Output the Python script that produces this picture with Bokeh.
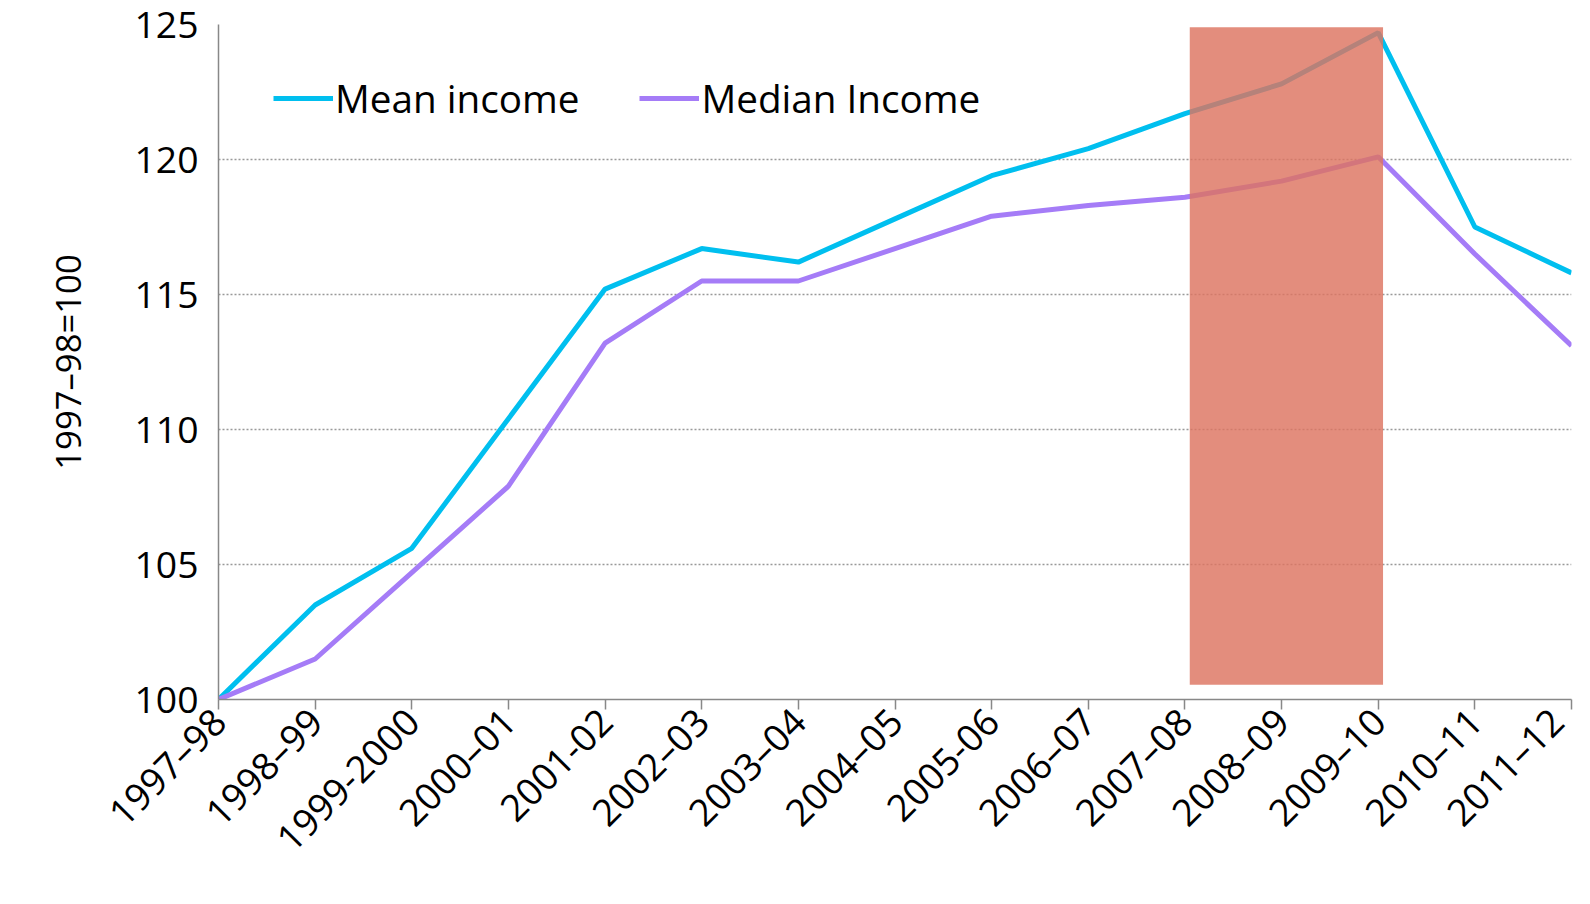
from bokeh.plotting import figure
from bokeh.models import Range1d, FixedTicker, Legend
from bokeh.embed import file_html
from bokeh.resources import INLINE
import math

years = ["1997\u201398", "1998\u201399", "1999-2000", "2000\u201301", "2001-02", "2002\u201303",
         "2003\u201304", "2004\u201305", "2005-06", "2006\u201307", "2007\u201308", "2008\u201309",
         "2009\u201310", "2010\u201311", "2011\u201312"]
mean_income = [100, 103.5, 105.6, 110.4, 115.2, 116.7, 116.2, 117.8, 119.4, 120.4, 121.7, 122.8, 124.7, 117.5, 115.8]
median_income = [100, 101.5, 104.7, 107.9, 113.2, 115.5, 115.5, 116.7, 117.9, 118.3, 118.6, 119.2, 120.1, 116.5, 113.1]
shade_start, shade_end = 10.05, 12.05
shade_bottom, shade_top = 100.55, 124.9

x = list(range(len(years)))

p = figure(width=1574, height=882, output_backend="svg", toolbar_location=None,
           x_range=Range1d(0, len(years) - 1), y_range=Range1d(100, 125),
           min_border_left=218, min_border_right=3, min_border_top=24, min_border_bottom=10)
p.outline_line_color = None
p.background_fill_color = "white"

l1 = p.line(x, mean_income, line_width=5, line_color="#00BFEF")
l2 = p.line(x, median_income, line_width=5, line_color="#A57CF7")
p.quad(left=shade_start, right=shade_end, bottom=shade_bottom, top=shade_top,
       fill_color="#DD7460", fill_alpha=0.82, line_color=None)

legend = Legend(items=[("Mean income", [l1]), ("Median Income", [l2])],
                orientation="horizontal", location=(55, 575), border_line_color=None,
                background_fill_alpha=0, label_text_font_size="29pt", label_text_font="Open Sans",
                label_text_color="black", glyph_width=60, spacing=60, label_standoff=2)
p.add_layout(legend, "center")

p.xgrid.grid_line_color = None
p.ygrid.grid_line_color = "#999999"
p.ygrid.grid_line_dash = "2 2"
p.ygrid.grid_line_width = 1.5

p.xaxis.ticker = FixedTicker(ticks=x)
p.xaxis.major_label_overrides = {i: s for i, s in enumerate(years)}
p.xaxis.major_label_orientation = math.pi / 4
p.yaxis.ticker = FixedTicker(ticks=[100, 105, 110, 115, 120, 125])
p.yaxis.axis_label = "1997\u201398=100"
for ax in (p.xaxis, p.yaxis):
    ax.axis_line_color = "#888888"
    ax.axis_line_width = 1.5
    ax.major_tick_line_color = "#888888"
    ax.major_tick_line_width = 1.5
    ax.minor_tick_line_color = None
    ax.major_label_text_font = "Open Sans"
    ax.major_label_text_font_size = "28pt"
    ax.major_label_text_color = "black"
p.xaxis.major_tick_out = 10
p.xaxis.major_tick_in = 0
p.yaxis.major_tick_out = 0
p.yaxis.major_tick_in = 0
p.yaxis.major_label_standoff = 20
p.yaxis.axis_label_text_font = "Open Sans"
p.yaxis.axis_label_text_font_style = "normal"
p.yaxis.axis_label_text_font_size = "26pt"
p.yaxis.axis_label_text_color = "black"
p.yaxis.axis_label_standoff = 40

open("out.html", "w").write(file_html(p, INLINE))
